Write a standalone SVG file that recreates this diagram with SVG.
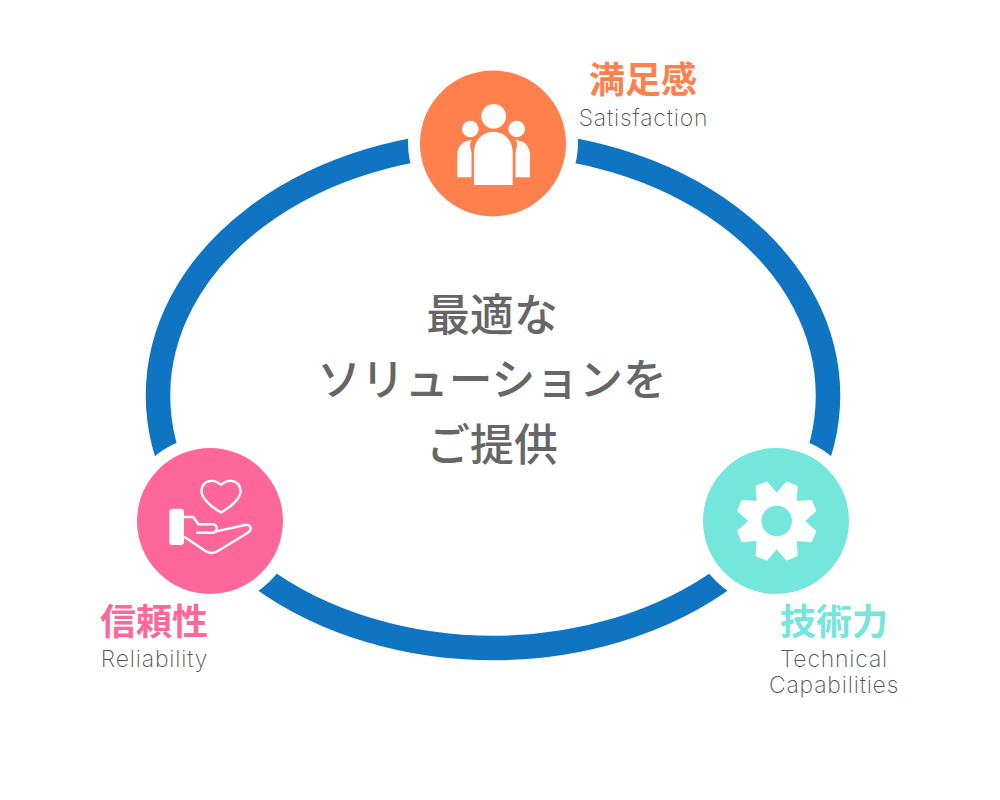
<svg xmlns="http://www.w3.org/2000/svg" width="1000" height="800" viewBox="0 0 1000 800">
<style>
text{text-anchor:middle;font-family:"Noto Sans CJK JP","Noto Sans CJK SC",sans-serif}
.c{font-size:43.800px;font-weight:500;fill:#666}
.h{font-size:36px;font-weight:700}
.s{font-size:23px;font-weight:200;fill:#555;letter-spacing:.8px;font-family:"Inter","Noto Sans",sans-serif}
.gap{fill:#fff}
.ic{fill:#fff}
.ln{fill:none;stroke:#fff;stroke-width:2.4;stroke-linejoin:round;stroke-linecap:round}
</style>
<rect width="1000" height="800" fill="#fff"/>
<g id="connectors">
<ellipse cx="493" cy="395.500" rx="335" ry="252.500" fill="none" stroke="#0F75C2" stroke-width="24.500"/>
</g>
<g id="center">
<text class="c" x="492" y="331">最適な</text>
<text class="c" x="492" y="396">ソリューションを</text>
<text class="c" x="492" y="461">ご提供</text>
</g>
<g id="satisfaction">
<circle class="gap" cx="493" cy="143" r="85"/>
<circle cx="493" cy="143.500" r="73" fill="#FF7F4D"/>
<circle class="ic" cx="493.700" cy="116.300" r="12.300"/>
<circle class="ic" cx="470.300" cy="129" r="8.300"/>
<circle class="ic" cx="516.700" cy="129" r="8.300"/>
<path class="ic" d="M474 185V153C474 140 483 131.700 493.500 131.700S512.700 140 512.700 153V185Z"/>
<path class="ic" d="M457.300 177.300V155C457.300 146 463 140.500 472 140C468 145 471.500 149 471.500 153V177.300Z"/>
<path class="ic" d="M530 177.300V155C530 146 524 140.500 515.500 140C519 145 515.500 149 515.500 153V177.300Z"/>
<text class="h" x="643" y="93" fill="#FF7F4D">満足感</text>
<text class="s" x="643.500" y="125.500">Satisfaction</text>
</g>
<g id="reliability">
<circle class="gap" cx="210" cy="521" r="85"/>
<circle cx="210" cy="521" r="73" fill="#FF6699"/>
<path class="ln" d="M221 485C214 478 202 480 201.500 491C201.500 499 213 508 221 512.500C229 508 241 499 240.500 491C240 480 228 478 221 485Z"/>
<rect class="ic" x="169.300" y="508.700" width="14.700" height="36.300" rx="3"/>
<path class="ln" d="M185 517H193.300L198.300 524.300H213.300C218 524.300 218 532.700 213 532.700H197.300M215 531.700L245 525C251 524 253 530 247 533.300L218.300 550.700C214 553.500 209 553.500 205 550.700L185 537.300"/>
<text class="h" x="154" y="635" fill="#FF6699">信頼性</text>
<text class="s" x="154.500" y="667">Reliability</text>
</g>
<g id="technical">
<circle class="gap" cx="776" cy="521" r="85"/>
<circle cx="776" cy="521" r="73" fill="#75E6DC"/>
<g transform="translate(776.700 521)">
<circle class="ic" r="27"/>
<path id="t" class="ic" stroke="#fff" stroke-width="3" stroke-linejoin="round" d="M-10 -24L-5 -39H5L10 -24Z" transform="rotate(22.500)"/>
<use href="#t" transform="rotate(45)"/>
<use href="#t" transform="rotate(90)"/>
<use href="#t" transform="rotate(135)"/>
<use href="#t" transform="rotate(180)"/>
<use href="#t" transform="rotate(225)"/>
<use href="#t" transform="rotate(270)"/>
<use href="#t" transform="rotate(315)"/>
<circle r="15.300" fill="#75E6DC"/>
</g>
<text class="h" x="834" y="635" fill="#75E6DC">技術力</text>
<text class="s"><tspan x="834" y="667">Technical</tspan><tspan x="834" y="693">Capabilities</tspan></text>
</g>
</svg>
